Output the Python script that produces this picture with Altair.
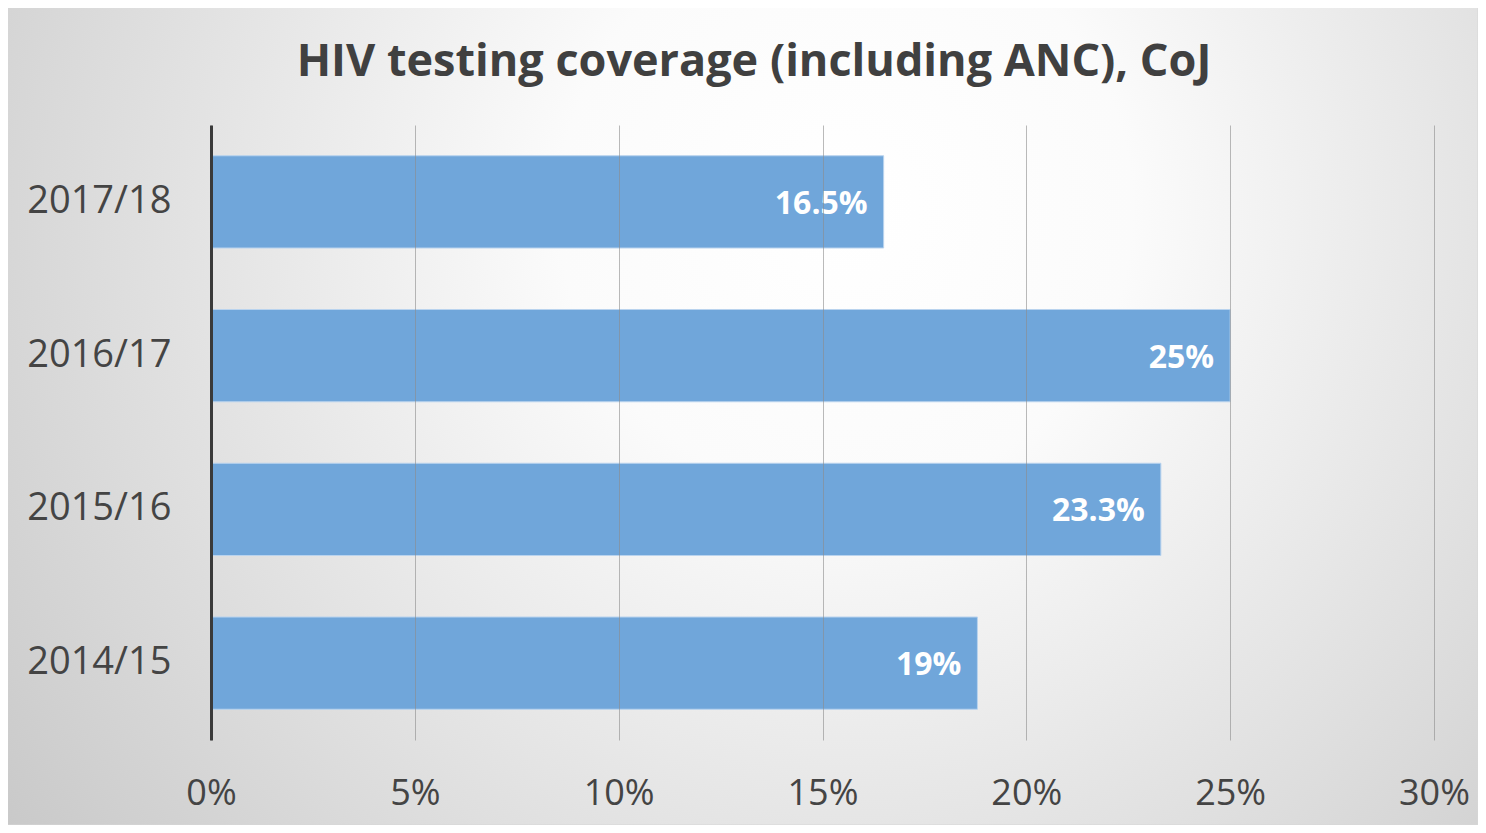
import altair as alt
import pandas as pd

periods = ["2017/18", "2016/17", "2015/16", "2014/15"]
coverage = [16.5, 25.0, 23.3, 18.8]
labels = ["16.5%", "25%", "23.3%", "19%"]
x_ticks = [0, 5, 10, 15, 20, 25, 30]
title_text = ["HIV testing coverage (including ANC), CoJ"]

df = pd.DataFrame({"period": periods, "coverage": coverage, "label": labels})
bg_df = pd.DataFrame({"k": [0]})
title_df = pd.DataFrame({"t": title_text})

FONT = "Open Sans"
W, H = 1223, 615
PAD = {"left": 203, "top": 117, "right": 44, "bottom": 85}

bg = alt.Chart(bg_df).mark_rect(
    fill={
        "gradient": "radial",
        "x1": 0.57, "y1": 0.36, "r1": 0.0,
        "x2": 0.57, "y2": 0.36, "r2": 0.78,
        "stops": [
            {"offset": 0.0, "color": "#ffffff"},
            {"offset": 0.25, "color": "#fbfbfb"},
            {"offset": 1.0, "color": "#c2c2c2"},
        ],
    },
    stroke="#d6d6d6",
    strokeWidth=1,
).encode(
    x=alt.value(-PAD["left"] - 1),
    x2=alt.value(W + PAD["right"]),
    y=alt.value(-PAD["top"] - 2),
    y2=alt.value(H + PAD["bottom"]),
)

title = alt.Chart(title_df).mark_text(
    align="center",
    baseline="alphabetic",
    font=FONT,
    fontSize=45,
    fontWeight="bold",
    color="#404040",
).encode(
    x=alt.value(754 - 211),
    y=alt.value(76 - 125),
    text="t:N",
)

y_enc = alt.Y(
    "period:N",
    sort=periods,
    scale=alt.Scale(paddingInner=0.4, paddingOuter=0.2),
    axis=alt.Axis(
        title=None,
        labelFont=FONT,
        labelFontSize=38,
        labelColor="#444444",
        labelPadding=40,
        ticks=False,
        domain=True,
        domainColor="#3a3a3a",
        domainWidth=3,
        grid=False,
        zindex=2,
    ),
)

x_enc = alt.X(
    "coverage:Q",
    scale=alt.Scale(domain=[0, 30], nice=False),
    axis=alt.Axis(
        title=None,
        values=x_ticks,
        labelExpr="datum.value + '%'",
        labelFont=FONT,
        labelFontSize=36,
        labelColor="#444444",
        labelPadding=36,
        labelFlush=False,
        labelBound=False,
        labelOverlap=False,
        ticks=False,
        domain=False,
        grid=True,
        gridColor="#8c8c8c",
        gridOpacity=0.6,
        gridWidth=1,
        zindex=1,
    ),
)

bars = alt.Chart(df).mark_bar(
    color="#70a6da",
    stroke="#b9d3ee",
    strokeWidth=1,
).encode(x=x_enc, y=y_enc)

text = alt.Chart(df).mark_text(
    align="right",
    baseline="middle",
    dx=-16,
    dy=2,
    font=FONT,
    fontSize=32,
    fontWeight="bold",
    color="white",
).encode(
    x=alt.X("coverage:Q"),
    y=alt.Y("period:N", sort=periods),
    text="label:N",
)

chart = alt.layer(bg, bars, text, title).properties(
    width=W,
    height=H,
    padding=PAD,
    autosize=alt.AutoSizeParams(type="none"),
).configure_view(stroke=None)

chart.save("out.html", embed_options={"renderer": "svg", "actions": False})
